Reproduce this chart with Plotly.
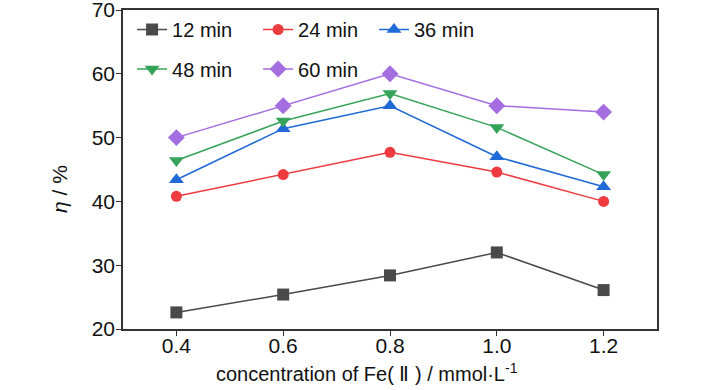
import plotly.graph_objects as go

conc = [0.4, 0.6, 0.8, 1.0, 1.2]
eta_12 = [22.6, 25.4, 28.4, 32.0, 26.1]
eta_24 = [40.8, 44.2, 47.7, 44.6, 40.0]
eta_36 = [43.4, 51.4, 55.0, 47.0, 42.3]
eta_48 = [46.4, 52.6, 56.9, 51.6, 44.2]
eta_60 = [50.0, 55.0, 60.0, 55.0, 54.0]
names = ["12 min", "24 min", "36 min", "48 min", "60 min"]
x_ticks = [0.4, 0.6, 0.8, 1.0, 1.2]
x_ticklabels = ["0.4", "0.6", "0.8", "1.0", "1.2"]
y_ticks = [20, 30, 40, 50, 60, 70]

series = [eta_12, eta_24, eta_36, eta_48, eta_60]
colors = ["#4a4a4a", "#ee3b3f", "#1f6ad6", "#36a35a", "#a46ee0"]
symbols = ["square", "circle", "triangle-up", "triangle-down", "diamond"]
sizes = [12, 11, 13, 13, 13]
legend_ids = ["legend", "legend2", "legend3", "legend4", "legend5"]
legend_xy = [(0.017, 1.0), (0.253, 1.0), (0.470, 1.0), (0.017, 0.876), (0.253, 0.876)]

FONT = "Liberation Sans, Arial, sans-serif"
FS = 21

fig = go.Figure()
for ys, nm, c, s, sz, lg in zip(series, names, colors, symbols, sizes, legend_ids):
    fig.add_trace(go.Scatter(
        x=conc, y=ys, name=nm, mode="lines+markers",
        line=dict(color=c, width=1.5),
        marker=dict(symbol=s, size=sz, color=c),
        legend=lg,
    ))

legend_layout = {}
for lg, (lx, ly) in zip(legend_ids, legend_xy):
    legend_layout[lg] = dict(
        x=lx, y=ly, orientation="h", xanchor="left", yanchor="top",
        bgcolor="rgba(0,0,0,0)", borderwidth=0,
        font=dict(family=FONT, size=20, color="#111"),
    )

fig.update_layout(
    width=728, height=390,
    margin=dict(l=123, r=71, t=10, b=61, autoexpand=False),
    paper_bgcolor="white", plot_bgcolor="white",
    font=dict(family=FONT, size=FS, color="#111"),
    showlegend=True,
    **legend_layout,
    xaxis=dict(
        range=[0.3, 1.3], tickvals=x_ticks, ticktext=x_ticklabels,
        showline=True, mirror=True, linecolor="#333", linewidth=1.5,
        ticks="outside", ticklen=5, tickwidth=1.2, tickcolor="#333",
        showgrid=False, zeroline=False, ticklabeloverflow="allow",
        ticklabelstandoff=-8,
        tickfont=dict(family=FONT, size=FS, color="#111"),
    ),
    yaxis=dict(
        range=[20, 70], tickvals=y_ticks,
        showline=True, mirror=True, linecolor="#333", linewidth=1.5,
        ticks="outside", ticklen=5, tickwidth=1.2, tickcolor="#333",
        showgrid=False, zeroline=False, ticklabeloverflow="allow",
        ticklabelstandoff=-3,
        tickfont=dict(family=FONT, size=FS, color="#111"),
    ),
    annotations=[
        dict(text="concentration of Fe( <span style='font-family:Liberation Serif, serif'>Ⅱ</span> ) / mmol·L<sup>-1</sup>",
             xref="paper", yref="paper", x=0.457, y=-0.135,
             xanchor="center", yanchor="middle", showarrow=False,
             font=dict(family=FONT, size=20, color="#111")),
        dict(text="<i>η</i> / %",
             xref="paper", yref="paper", x=-0.118, y=0.439,
             xanchor="center", yanchor="middle", showarrow=False, textangle=-90,
             font=dict(family=FONT, size=21, color="#111")),
    ],
)

fig.write_html("out.html", config={"displayModeBar": False},
               post_script="document.body.style.margin='0px';")
